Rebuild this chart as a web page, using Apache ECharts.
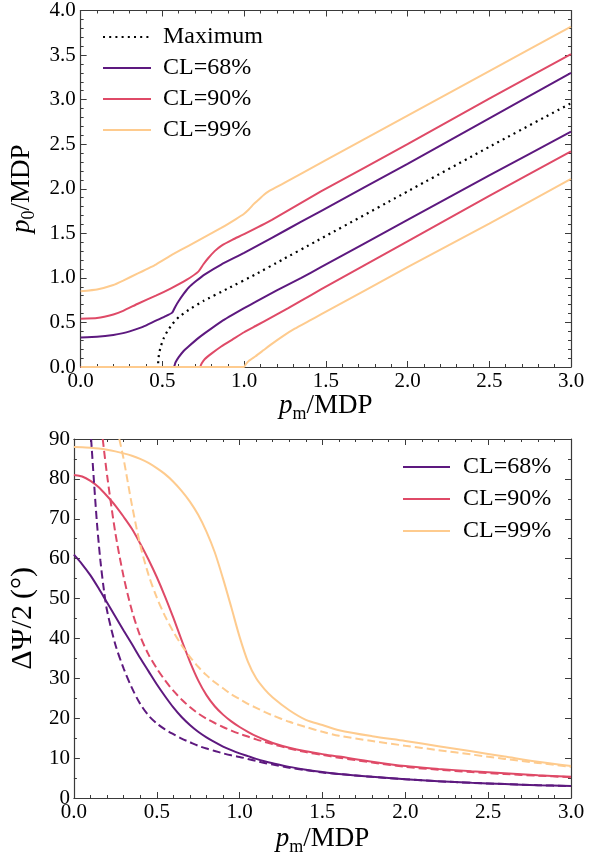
<!DOCTYPE html>
<html>
<head>
<meta charset="utf-8">
<script src="https://cdn.jsdelivr.net/npm/echarts@6/dist/echarts.min.js"></script>
<style>
html, body { margin: 0; padding: 0; background: #fff; }
#chart { width: 604px; height: 858px; }
</style>
</head>
<body>
<div id="chart"></div>
<script>
// ---- Upper panel: p0 / MDP versus measured p_m / MDP ----
const maxX = [0, 0.47, 0.475, 0.48, 0.49, 0.51, 0.53, 0.56, 0.60, 0.66, 0.75, 0.90, 1.07, 1.23, 1.43, 2.0, 2.5, 3.0];
const maxY = [0, 0, 0.08, 0.15, 0.23, 0.33, 0.40, 0.48, 0.56, 0.64, 0.74, 0.88, 1.04, 1.20, 1.40, 1.97, 2.47, 2.96];

const cl68UpX = [0, 0.1, 0.2, 0.26, 0.3, 0.38, 0.46, 0.52, 0.56, 0.58, 0.60, 0.63, 0.66, 0.71, 0.76, 0.86, 1.0, 1.17, 1.35, 1.47, 2.0, 2.5, 3.0];
const cl68UpY = [0.33, 0.34, 0.36, 0.38, 0.40, 0.45, 0.52, 0.57, 0.61, 0.68, 0.74, 0.82, 0.89, 0.97, 1.04, 1.15, 1.28, 1.45, 1.63, 1.75, 2.28, 2.79, 3.30];
const cl68LoX = [0, 0.57, 0.58, 0.60, 0.63, 0.66, 0.71, 0.76, 0.86, 1.0, 1.07, 1.2, 1.35, 1.47, 2.0, 2.5, 3.0];
const cl68LoY = [0, 0, 0.05, 0.11, 0.18, 0.23, 0.31, 0.38, 0.51, 0.66, 0.73, 0.86, 1.00, 1.12, 1.65, 2.15, 2.64];

const cl90UpX = [0, 0.1, 0.2, 0.26, 0.35, 0.46, 0.55, 0.65, 0.72, 0.75, 0.78, 0.82, 0.86, 0.93, 1.0, 1.17, 1.47, 2.0, 2.5, 3.0];
const cl90UpY = [0.54, 0.55, 0.59, 0.63, 0.71, 0.80, 0.88, 0.98, 1.07, 1.15, 1.22, 1.30, 1.36, 1.43, 1.49, 1.65, 1.97, 2.50, 3.01, 3.51];
const cl90LoX = [0, 0.73, 0.74, 0.76, 0.8, 0.86, 0.93, 1.0, 1.07, 1.17, 1.27, 1.35, 1.47, 2.0, 2.5, 3.0];
const cl90LoY = [0, 0, 0.04, 0.09, 0.15, 0.23, 0.31, 0.39, 0.46, 0.56, 0.66, 0.745, 0.87, 1.41, 1.92, 2.42];

const cl99UpX = [0, 0.1, 0.2, 0.26, 0.35, 0.46, 0.56, 0.66, 0.76, 0.86, 0.95, 1.0, 1.03, 1.06, 1.09, 1.12, 1.15, 1.2, 1.26, 1.35, 1.5, 2.0, 2.5, 3.0];
const cl99UpY = [0.85, 0.87, 0.92, 0.97, 1.05, 1.15, 1.26, 1.36, 1.46, 1.56, 1.66, 1.72, 1.77, 1.83, 1.88, 1.93, 1.97, 2.02, 2.08, 2.17, 2.32, 2.82, 3.32, 3.82];
const cl99LoX = [0, 1.0, 1.01, 1.03, 1.07, 1.12, 1.17, 1.24, 1.31, 1.40, 1.47, 2.0, 2.5, 3.0];
const cl99LoY = [0, 0, 0.03, 0.07, 0.12, 0.19, 0.26, 0.35, 0.43, 0.52, 0.59, 1.12, 1.61, 2.11];

// ---- Lower panel: half-width of the angle interval, degrees ----
const psiX = [0, 0.05, 0.1, 0.15, 0.2, 0.25, 0.3, 0.35, 0.4, 0.45, 0.5, 0.55, 0.6, 0.65, 0.7, 0.75, 0.8, 0.85, 0.9, 0.95,
              1.0, 1.05, 1.1, 1.15, 1.2, 1.3, 1.4, 1.5, 1.6, 1.8, 2.0, 2.2, 2.4, 2.6, 2.8, 3.0];
const psi68Y = [61.0, 58.6, 55.8, 52.5, 49.0, 45.5, 42.0, 38.6, 35.1, 31.8, 28.5, 25.5, 22.7, 20.3, 18.3, 16.6, 15.2, 14.0, 12.9, 12.0,
                11.2, 10.5, 9.8, 9.2, 8.7, 7.8, 7.1, 6.5, 6.0, 5.3, 4.7, 4.2, 3.8, 3.5, 3.2, 3.0];
const psi90Y = [81.0, 80.6, 79.5, 77.9, 75.7, 73.3, 70.5, 67.5, 63.8, 59.8, 55.4, 50.5, 45.2, 39.6, 34.2, 29.5, 25.8, 23.0, 20.9, 19.2,
                17.8, 16.6, 15.5, 14.6, 13.8, 12.6, 11.7, 11.0, 10.4, 9.1, 8.0, 7.3, 6.7, 6.2, 5.7, 5.3];
const psi99Y = [88.0, 87.95, 87.8, 87.6, 87.3, 86.9, 86.4, 85.8, 85.0, 84.0, 82.7, 81.2, 79.3, 77.0, 74.3, 71.0, 66.8, 61.6, 55.0, 47.8,
                40.4, 34.2, 30.0, 27.3, 25.2, 22.0, 19.6, 18.3, 17.0, 15.5, 14.3, 13.0, 11.7, 10.4, 9.1, 8.0];

// dashed curves start where they leave the top of the frame
const psi68dX = [0.104, 0.12, 0.14, 0.16, 0.18, 0.2, 0.25, 0.3, 0.35, 0.4, 0.45, 0.5, 0.55, 0.6, 0.65, 0.7, 0.75, 0.8, 0.85, 0.9, 0.95,
                 1.0, 1.05, 1.1, 1.15, 1.2, 1.3, 1.4, 1.5, 1.6, 1.8, 2.0, 2.2, 2.4, 2.6, 2.8, 3.0];
const psi68dY = [90, 80.0, 68.5, 59.5, 52.5, 47.0, 38.5, 32.5, 27.6, 23.6, 20.7, 18.7, 17.2, 16.0, 14.9, 14.0, 13.1, 12.4, 11.8, 11.2, 10.7,
                 10.3, 9.8, 9.3, 8.8, 8.4, 7.6, 7.0, 6.4, 6.0, 5.3, 4.7, 4.2, 3.8, 3.5, 3.2, 3.0];
const psi90dX = [0.174, 0.2, 0.25, 0.3, 0.35, 0.4, 0.45, 0.5, 0.55, 0.6, 0.65, 0.7, 0.75, 0.8, 0.85, 0.9, 0.95,
                 1.0, 1.05, 1.1, 1.15, 1.2, 1.3, 1.4, 1.5, 1.6, 1.8, 2.0, 2.2, 2.4, 2.6, 2.8, 3.0];
const psi90dY = [90, 81.0, 66.5, 55.5, 47.0, 40.6, 36.0, 32.5, 29.5, 26.9, 24.7, 22.8, 21.2, 19.9, 18.8, 17.8, 16.9,
                 16.1, 15.4, 14.7, 14.1, 13.5, 12.4, 11.5, 10.8, 10.1, 8.9, 7.8, 7.1, 6.5, 6.0, 5.6, 5.2];
const psi99dX = [0.274, 0.3, 0.35, 0.4, 0.45, 0.5, 0.55, 0.6, 0.65, 0.7, 0.75, 0.8, 0.85, 0.9, 0.95,
                 1.0, 1.05, 1.1, 1.15, 1.2, 1.3, 1.4, 1.5, 1.6, 1.8, 2.0, 2.2, 2.4, 2.6, 2.8, 3.0];
const psi99dY = [90, 85.0, 73.5, 63.5, 56.0, 50.3, 45.6, 41.7, 38.3, 35.4, 32.9, 30.8, 29.0, 27.5, 26.0,
                 24.8, 23.6, 22.6, 21.6, 20.7, 19.1, 17.8, 16.6, 15.6, 14.3, 13.1, 12.0, 10.9, 9.8, 8.8, 7.8];

// tick labels
const xTicks = ['0.0', '0.5', '1.0', '1.5', '2.0', '2.5', '3.0'];
const pTicks = ['0.0', '0.5', '1.0', '1.5', '2.0', '2.5', '3.0', '3.5', '4.0'];
const psiTicks = ['0', '10', '20', '30', '40', '50', '60', '70', '80', '90'];

const names = ['CL=68%', 'CL=90%', 'CL=99%'];
const colors = ['#5d197f', '#df4a67', '#fecb8e'];

const FONT = 'Liberation Serif';
const AXIS_COLOR = '#3a3a3a';

function zip(xs, ys) { return xs.map((x, i) => [x, ys[i]]); }

function tickFmt(list, step) {
  return v => list[Math.round(v / step)] ?? '';
}

function frameAxis(gridIndex, pos, min, max, interval, minorSplit, showLabel, fmt, margin) {
  return {
    type: 'value', gridIndex, position: pos, min, max, interval,
    axisLine: { show: true, onZero: false, lineStyle: { color: AXIS_COLOR, width: 1.2 } },
    axisTick: { show: true, inside: true, length: 6, lineStyle: { color: AXIS_COLOR, width: 1 } },
    minorTick: { show: true, splitNumber: minorSplit, length: 3, lineStyle: { color: AXIS_COLOR, width: 1 } },
    splitLine: { show: false },
    axisLabel: showLabel ? {
      show: true, formatter: fmt, margin, color: '#000',
      fontFamily: FONT, fontSize: 21
    } : { show: false }
  };
}

const nameRich = {
  i: { fontFamily: FONT, fontStyle: 'italic', fontSize: 27, lineHeight: 34, verticalAlign: 'middle', color: '#000' },
  s: { fontFamily: FONT, fontSize: 18, lineHeight: 20, verticalAlign: 'bottom', color: '#000' },
  n: { fontFamily: FONT, fontSize: 27, lineHeight: 34, verticalAlign: 'middle', color: '#000' },
  g: { fontFamily: FONT, fontSize: 30, lineHeight: 34, verticalAlign: 'middle', color: '#000' }
};

const xAxes = [
  Object.assign(frameAxis(0, 'bottom', 0, 3, 0.5, 5, true, tickFmt(xTicks, 0.5), 4), {
    name: '{i|p}{s|m}{n|/MDP}', nameLocation: 'middle', nameGap: 16,
    nameTextStyle: { rich: nameRich }
  }),
  frameAxis(0, 'top', 0, 3, 0.5, 5, false),
  Object.assign(frameAxis(1, 'bottom', 0, 3, 0.5, 5, true, tickFmt(xTicks, 0.5), 4), {
    name: '{i|p}{s|m}{n|/MDP}', nameLocation: 'middle', nameGap: 24,
    nameTextStyle: { rich: nameRich }
  }),
  frameAxis(1, 'top', 0, 3, 0.5, 5, false)
];

const yAxes = [
  Object.assign(frameAxis(0, 'left', 0, 4, 0.5, 5, true, tickFmt(pTicks, 0.5), 5), {
    name: '{i|p}{s|0}{n|/MDP}', nameLocation: 'middle', nameGap: 38, nameRotate: 90,
    nameTextStyle: { rich: nameRich }
  }),
  frameAxis(0, 'right', 0, 4, 0.5, 5, false),
  Object.assign(frameAxis(1, 'left', 0, 90, 10, 2, true, tickFmt(psiTicks, 10), 4), {
    name: '{g|\u0394\u03A8/2\u2009(\u00B0)}', nameLocation: 'middle', nameGap: 28, nameRotate: 90,
    nameTextStyle: { rich: nameRich }
  }),
  frameAxis(1, 'right', 0, 90, 10, 2, false)
];

function line(name, xs, ys, color, xi, yi, type, width, smooth) {
  return {
    type: 'line', name, xAxisIndex: xi, yAxisIndex: yi,
    data: zip(xs, ys), showSymbol: false, symbol: 'none',
    smooth: smooth,
    lineStyle: { color, width: width || 2, type: type || 'solid', cap: 'butt' },
    itemStyle: { color }, emphasis: { disabled: true }, z: 2
  };
}

const TOP_SMOOTH = 0.12;
const BOT_SMOOTH = 0.3;
const DASH = [8, 4];

const series = [
  line('Maximum', maxX, maxY, '#000000', 0, 0, [2, 4.2], 2.2, TOP_SMOOTH),
  line(names[0], cl68UpX, cl68UpY, colors[0], 0, 0, null, 2, TOP_SMOOTH),
  line(names[1], cl90UpX, cl90UpY, colors[1], 0, 0, null, 2, TOP_SMOOTH),
  line(names[2], cl99UpX, cl99UpY, colors[2], 0, 0, null, 2, TOP_SMOOTH),
  line(names[0], cl68LoX, cl68LoY, colors[0], 0, 0, null, 2, TOP_SMOOTH),
  line(names[1], cl90LoX, cl90LoY, colors[1], 0, 0, null, 2, TOP_SMOOTH),
  line(names[2], cl99LoX, cl99LoY, colors[2], 0, 0, null, 2, TOP_SMOOTH),

  line(names[0], psiX, psi68Y, colors[0], 2, 2, null, 2, BOT_SMOOTH),
  line(names[1], psiX, psi90Y, colors[1], 2, 2, null, 2, BOT_SMOOTH),
  line(names[2], psiX, psi99Y, colors[2], 2, 2, null, 2, BOT_SMOOTH),
  line(names[0], psi68dX, psi68dY, colors[0], 2, 2, DASH, 2, BOT_SMOOTH),
  line(names[1], psi90dX, psi90dY, colors[1], 2, 2, DASH, 2, BOT_SMOOTH),
  line(names[2], psi99dX, psi99dY, colors[2], 2, 2, DASH, 2, BOT_SMOOTH)
];

const option = {
  animation: false,
  backgroundColor: '#fff',
  grid: [
    { left: 78, top: 7, width: 493, height: 360 },
    { left: 71, top: 439, width: 500, height: 359 }
  ],
  xAxis: xAxes,
  yAxis: yAxes,
  legend: [
    {
      data: ['Maximum'].concat(names), orient: 'vertical', left: 97, top: 20,
      itemWidth: 48, itemHeight: 14, itemGap: 7,
      itemStyle: { opacity: 0 },
      textStyle: { fontFamily: FONT, fontSize: 24, lineHeight: 22, color: '#000', padding: [0, 0, 0, 7] },
      selectedMode: false
    },
    {
      data: names, orient: 'vertical', left: 397, top: 450,
      itemWidth: 47, itemHeight: 14, itemGap: 8,
      itemStyle: { opacity: 0 },
      textStyle: { fontFamily: FONT, fontSize: 24, lineHeight: 22, color: '#000', padding: [0, 0, 0, 8] },
      selectedMode: false
    }
  ],
  series
};

const chart = echarts.init(document.getElementById('chart'), null, { renderer: 'canvas' });
chart.setOption(option);
</script>
</body>
</html>
